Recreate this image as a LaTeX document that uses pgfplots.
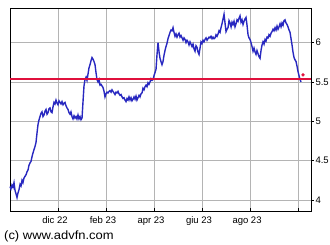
\documentclass[border=0pt]{standalone}
\usepackage{pgfplots}
\pgfplotsset{compat=1.18}
\usepackage{fontspec}
\setmainfont{Liberation Sans}
\definecolor{gridc}{HTML}{B4B4B4}
\definecolor{lineblue}{HTML}{2828C0}
\definecolor{refred}{HTML}{E0103C}
\begin{document}
\begin{tikzpicture}[x=1pt,y=1pt]
\useasboundingbox (0,0) rectangle (330,245);
\begin{axis}[
  at={(10pt,34pt)}, anchor=south west,
  scale only axis, width=301pt, height=203pt,
  xmin=-2.0, xmax=10.54, ymin=3.86, ymax=6.44,
  axis line style={black, line width=0.9pt},
  xtick={0,2,4,6,8,10},
  xticklabels={dic 22,feb 23,apr 23,giu 23,ago 23,{}},
  ytick={4,4.5,5,5.5,6},
  yticklabels={4,4.5,5,5.5,6},
  yticklabel pos=right,
  grid=major,
  major grid style={gridc, line width=0.6pt},
  tick style={black, line width=0.6pt},
  xtick align=inside, ytick align=outside,
  major tick length=3pt,
  xtick pos=bottom, ytick pos=right,
  tick label style={font=\fontsize{9.5}{11}\selectfont},
  /pgf/number format/assume math mode=true,
  xticklabel style={yshift=-2pt, xshift=-3pt},
  yticklabel style={xshift=-2pt},
  clip=false,
]
\addplot[color=lineblue, line width=1.4pt] coordinates {
(-2.0,4.17) (-1.96,4.14) (-1.917,4.19) (-1.875,4.16) (-1.833,4.22) (-1.79,4.12) (-1.75,4.08) (-1.708,4.03)
(-1.667,4.09) (-1.625,4.13) (-1.58,4.20) (-1.54,4.18) (-1.5,4.25) (-1.46,4.22) (-1.417,4.28) (-1.375,4.30)
(-1.333,4.32) (-1.29,4.36) (-1.25,4.38) (-1.21,4.44) (-1.167,4.47) (-1.125,4.49) (-1.083,4.55) (-1.04,4.60)
(-1.0,4.64) (-0.958,4.68) (-0.917,4.73) (-0.875,4.85) (-0.833,4.96) (-0.79,5.02) (-0.75,5.06) (-0.71,5.10)
(-0.667,5.12) (-0.625,5.06) (-0.583,5.08) (-0.54,5.13) (-0.5,5.15) (-0.458,5.09) (-0.417,5.11) (-0.375,5.16)
(-0.333,5.17) (-0.29,5.12) (-0.25,5.11) (-0.21,5.18) (-0.167,5.24) (-0.125,5.22) (-0.083,5.27) (-0.04,5.23)
(0,5.21) (0.042,5.26) (0.083,5.24) (0.125,5.22) (0.167,5.25) (0.21,5.21) (0.25,5.23) (0.292,5.24)
(0.33,5.20) (0.375,5.17) (0.417,5.15) (0.458,5.11) (0.5,5.09) (0.54,5.12) (0.583,5.06) (0.625,5.03)
(0.667,5.07) (0.708,5.04) (0.75,5.06) (0.79,5.03) (0.833,5.08) (0.875,5.03) (0.917,5.06) (0.958,5.02)
(1.0,5.04) (1.042,5.25) (1.083,5.45) (1.125,5.53) (1.167,5.56) (1.208,5.52) (1.25,5.60) (1.292,5.68)
(1.333,5.72) (1.375,5.77) (1.417,5.81) (1.458,5.79) (1.5,5.76) (1.542,5.72) (1.583,5.62) (1.625,5.53)
(1.667,5.50) (1.708,5.53) (1.75,5.46) (1.79,5.47) (1.833,5.45) (1.875,5.43) (1.917,5.38) (1.958,5.31)
(2.0,5.35) (2.042,5.37) (2.083,5.36) (2.125,5.38) (2.167,5.39) (2.21,5.37) (2.25,5.40) (2.29,5.38)
(2.333,5.36) (2.375,5.34) (2.417,5.37) (2.458,5.36) (2.5,5.38) (2.54,5.35) (2.583,5.33) (2.625,5.34)
(2.667,5.31) (2.708,5.29) (2.75,5.30) (2.79,5.27) (2.833,5.25) (2.875,5.29) (2.917,5.27) (2.958,5.31)
(3.0,5.27) (3.042,5.30) (3.083,5.26) (3.125,5.28) (3.167,5.31) (3.21,5.28) (3.25,5.32) (3.29,5.27)
(3.333,5.30) (3.375,5.33) (3.417,5.31) (3.458,5.35) (3.5,5.36) (3.54,5.42) (3.583,5.40) (3.625,5.44)
(3.667,5.46) (3.708,5.44) (3.75,5.49) (3.79,5.47) (3.833,5.50) (3.875,5.54) (3.917,5.52) (3.958,5.53)
(4.0,5.58) (4.042,5.62) (4.083,5.66) (4.125,5.85) (4.167,6.00) (4.21,5.88) (4.25,5.80) (4.29,5.76)
(4.333,5.72) (4.375,5.76) (4.417,5.84) (4.458,5.90) (4.5,5.95) (4.54,5.99) (4.583,6.05) (4.625,6.09)
(4.667,6.13) (4.708,6.16) (4.75,6.15) (4.792,6.19) (4.833,6.13) (4.875,6.08) (4.917,6.11) (4.958,6.07)
(5.0,6.10) (5.042,6.12) (5.083,6.07) (5.125,6.09) (5.167,6.06) (5.21,6.03) (5.25,6.06) (5.292,6.04)
(5.333,6.00) (5.375,6.03) (5.417,6.01) (5.458,5.97) (5.5,6.01) (5.54,5.98) (5.583,5.95) (5.625,5.98)
(5.667,5.92) (5.708,5.89) (5.75,5.96) (5.792,5.94) (5.833,5.88) (5.875,5.85) (5.917,5.93) (5.958,6.01)
(6.0,5.99) (6.042,6.03) (6.083,6.01) (6.125,6.04) (6.167,6.06) (6.21,6.03) (6.25,6.05) (6.292,6.07)
(6.333,6.06) (6.375,6.08) (6.417,6.05) (6.458,6.07) (6.5,6.05) (6.542,6.06) (6.583,6.10) (6.625,6.08)
(6.667,6.11) (6.708,6.15) (6.75,6.13) (6.79,6.19) (6.833,6.24) (6.875,6.30) (6.917,6.36) (6.958,6.25)
(7.0,6.14) (7.042,6.17) (7.083,6.19) (7.125,6.28) (7.167,6.25) (7.21,6.20) (7.25,6.26) (7.292,6.23)
(7.333,6.27) (7.375,6.20) (7.417,6.24) (7.458,6.29) (7.5,6.27) (7.54,6.31) (7.583,6.34) (7.625,6.26)
(7.667,6.29) (7.708,6.23) (7.75,6.27) (7.79,6.30) (7.833,6.32) (7.875,6.22) (7.917,6.10) (7.958,6.06)
(8.0,6.04) (8.042,6.00) (8.083,5.95) (8.125,5.89) (8.167,5.93) (8.21,5.88) (8.25,5.85) (8.29,5.90)
(8.333,5.86) (8.375,5.82) (8.417,5.80) (8.458,5.90) (8.5,5.97) (8.54,6.01) (8.583,5.98) (8.625,6.04)
(8.667,6.02) (8.708,6.07) (8.75,6.06) (8.79,6.10) (8.833,6.08) (8.875,6.12) (8.917,6.14) (8.958,6.17)
(9.0,6.15) (9.042,6.19) (9.083,6.16) (9.125,6.21) (9.167,6.17) (9.208,6.20) (9.25,6.24) (9.292,6.20)
(9.333,6.25) (9.375,6.22) (9.417,6.28) (9.458,6.29) (9.5,6.25) (9.542,6.23) (9.583,6.20) (9.625,6.16)
(9.667,6.13) (9.708,6.05) (9.75,5.97) (9.79,5.88) (9.833,5.81) (9.875,5.78) (9.917,5.76) (9.958,5.70)
(10.0,5.63) (10.042,5.58) (10.083,5.53) (10.125,5.50)
};
\addplot[draw=refred, line width=1.5pt] coordinates {(-2.0,5.535) (10.54,5.535)};
\addplot[only marks, mark=*, mark size=1.5pt, color=refred] coordinates {(10.21,5.59)};
\end{axis}
\node[anchor=base west, inner sep=0pt, font=\fontsize{12}{14}\selectfont] at (4,5) {\scalebox{1.08}[1]{(c) www.advfn.com}};
\end{tikzpicture}
\end{document}
